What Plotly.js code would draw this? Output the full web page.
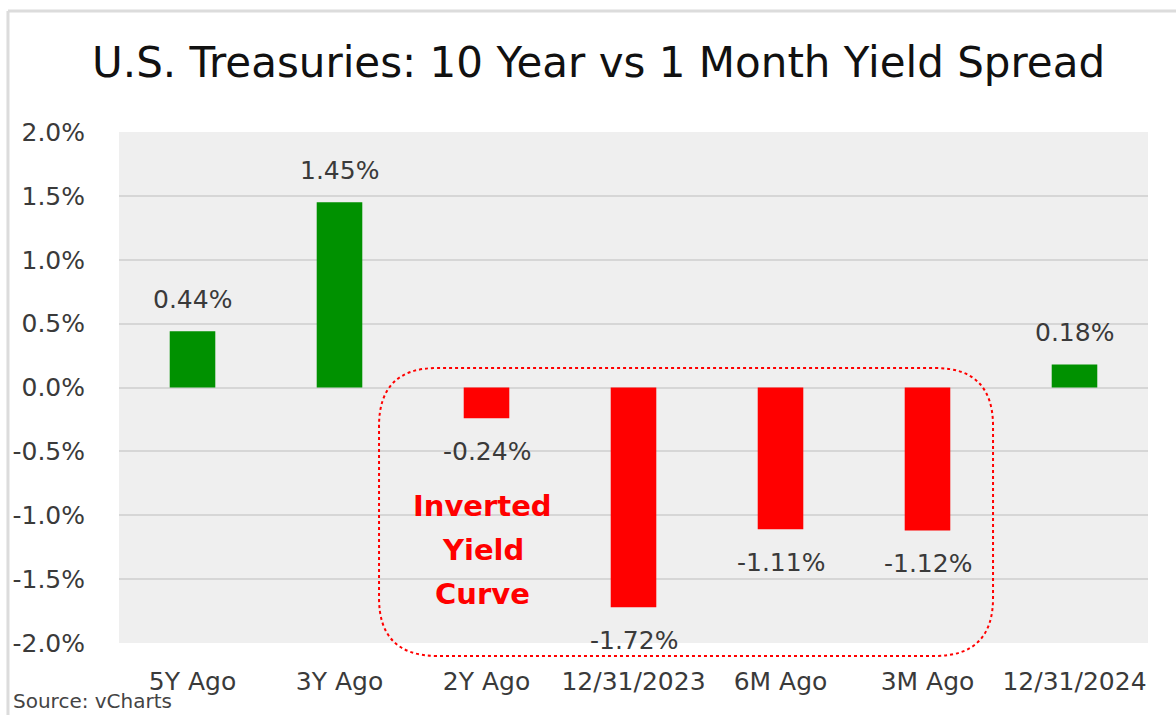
<!DOCTYPE html>
<html>
<head>
<meta charset="utf-8">
<script src="https://cdn.plot.ly/plotly-3.0.1.min.js"></script>
<style>html,body{margin:0;padding:0;background:#fff;}#chart{width:1176px;height:715px;}</style>
</head>
<body>
<div id="chart"></div>
<script>
const categories = ["5Y Ago", "3Y Ago", "2Y Ago", "12/31/2023", "6M Ago", "3M Ago", "12/31/2024"];
const spreads = [0.44, 1.45, -0.24, -1.72, -1.11, -1.12, 0.18];
const yTickVals = [2.0, 1.5, 1.0, 0.5, 0.0, -0.5, -1.0, -1.5, -2.0];
const yTickText = ["2.0%", "1.5%", "1.0%", "0.5%", "0.0%", "-0.5%", "-1.0%", "-1.5%", "-2.0%"];
const titleText = "U.S. Treasuries: 10 Year vs 1 Month Yield Spread";
const calloutLines = ["Inverted", "Yield", "Curve"];
const sourceText = "Source: vCharts";

const FONT = "DejaVu Sans, Verdana, sans-serif";
const colors = spreads.map(v => v >= 0 ? "#009100" : "#ff0000");

const valueLabels = spreads.map((v, i) => ({
  x: categories[i], y: v, xref: "x", yref: "y",
  text: v.toFixed(2) + "%", showarrow: false,
  yshift: v >= 0 ? 32 : -33, yanchor: "middle",
  font: {family: FONT, size: 25, color: "#3a3a3a"}
}));

const calloutAnns = calloutLines.map((t, i) => ({
  x: categories[2], y: -1.27, xref: "x", yref: "y", text: "<b>" + t + "</b>",
  showarrow: false, xshift: -4, yshift: (1 - i) * 44, yanchor: "middle",
  font: {family: FONT, size: 29, color: "#ff0000"}
}));

// rounded dotted box (paper coordinates)
const bx0 = 0.2527, bx1 = 0.8494, byt = 0.5382, byb = -0.0254, rx = 0.0564, ry = 0.1135;
const boxPath = `M ${bx0+rx},${byt} L ${bx1-rx},${byt} Q ${bx1},${byt} ${bx1},${byt-ry} ` +
  `L ${bx1},${byb+ry} Q ${bx1},${byb} ${bx1-rx},${byb} L ${bx0+rx},${byb} ` +
  `Q ${bx0},${byb} ${bx0},${byb+ry} L ${bx0},${byt-ry} Q ${bx0},${byt} ${bx0+rx},${byt} Z`;

const trace = {
  type: "bar", x: categories, y: spreads,
  marker: {color: colors, line: {width: 0}},
  width: 0.31, hoverinfo: "skip", cliponaxis: false
};

const layout = {
  width: 1176, height: 715,
  margin: {l: 119, r: 28, t: 132, b: 72},
  paper_bgcolor: "#ffffff", plot_bgcolor: "#efefef",
  showlegend: false,
  title: {text: titleText, x: 0.509, xanchor: "center", y: 0.913, yanchor: "middle",
          font: {family: FONT, size: 42, color: "#111111"}},
  xaxis: {type: "category", showgrid: false, zeroline: false, showline: false,
          ticks: "outside", ticklen: 16, tickcolor: "rgba(0,0,0,0)",
          tickfont: {family: FONT, size: 25, color: "#3a3a3a"}, fixedrange: true},
  yaxis: {range: [-2.0, 2.0], tickvals: yTickVals, ticktext: yTickText,
          showgrid: true, gridcolor: "#d6d6d6", gridwidth: 2,
          zeroline: true, zerolinecolor: "#d6d6d6", zerolinewidth: 2,
          showline: false, ticks: "outside", ticklen: 28, tickcolor: "rgba(0,0,0,0)",
          tickfont: {family: FONT, size: 25, color: "#3a3a3a"}, fixedrange: true},
  annotations: valueLabels.concat(calloutAnns, [
    {x: -0.1050, y: -0.1413, xref: "paper", yref: "paper", xanchor: "left", yanchor: "bottom",
     text: sourceText, showarrow: false, font: {family: FONT, size: 20, color: "#444444"}}
  ]),
  shapes: [
    {type: "line", xref: "paper", yref: "paper", x0: -0.1079, x1: 1.03, y0: 1.2368, y1: 1.2368,
     line: {color: "#dcdcdc", width: 3}},
    {type: "line", xref: "paper", yref: "paper", x0: -0.1079, x1: -0.1079, y0: 1.2368, y1: -0.2,
     line: {color: "#dcdcdc", width: 3}},
    {type: "path", xref: "paper", yref: "paper", path: boxPath,
     line: {color: "#ff0000", width: 2, dash: "dot"}, fillcolor: "rgba(0,0,0,0)", layer: "above"}
  ]
};

Plotly.newPlot("chart", [trace], layout, {displayModeBar: false, staticPlot: true});
</script>
</body>
</html>
